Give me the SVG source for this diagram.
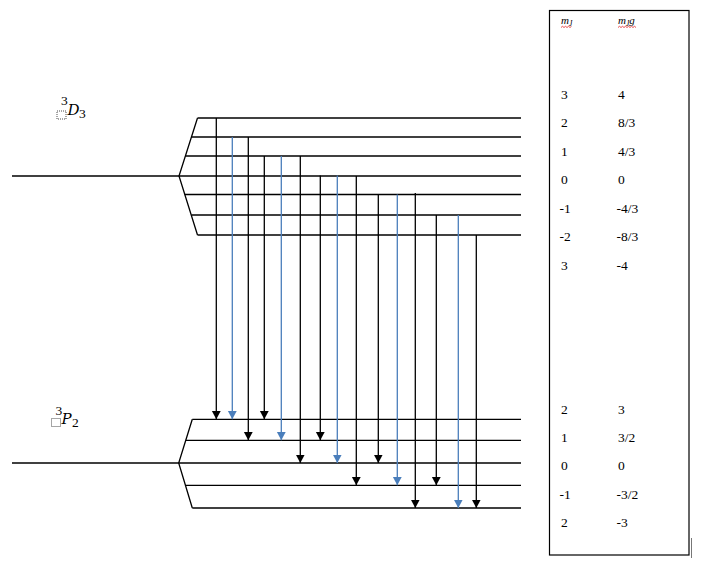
<svg xmlns="http://www.w3.org/2000/svg" width="709" height="566" viewBox="0 0 709 566">
<style>
.lv{stroke:#000;stroke-width:1.3;fill:none}
.tb{stroke:#000;stroke-width:1.3;fill:none}
.bl{stroke:#4a7ebb;stroke-width:1.3;fill:none}
.num{font-family:"Liberation Serif","Times New Roman",serif;font-size:13.5px;fill:#000}
.lab{font-family:"DejaVu Serif","Liberation Serif",serif;font-style:italic;font-size:15px;fill:#000}
.hd{font-family:"Liberation Serif","Times New Roman",serif;font-style:italic;font-size:11px;fill:#000}
.wavy{stroke:#e02020;stroke-width:0.8;fill:none}
.dot{stroke:#000;stroke-width:0.7;fill:none;stroke-dasharray:1,1}
</style>
<defs>
<marker id="ak" markerUnits="userSpaceOnUse" markerWidth="10" markerHeight="10" refX="8.5" refY="4.5" orient="auto">
<path d="M0,0 L8.5,4.5 L0,9 Z" fill="#000"/>
</marker>
<marker id="ab" markerUnits="userSpaceOnUse" markerWidth="10" markerHeight="10" refX="8.5" refY="4.5" orient="auto">
<path d="M0,0 L8.5,4.5 L0,9 Z" fill="#4a7ebb"/>
</marker>
</defs>
<rect width="709" height="566" fill="#fff"/>

<g id="D3-levels">
<line class="lv" x1="12" y1="176" x2="521" y2="176"/>
<polyline class="lv" points="197.5,118 179,176 197.5,235"/>
<line class="lv" x1="197.5" y1="118" x2="521" y2="118"/>
<line class="lv" x1="191.5" y1="137" x2="521" y2="137"/>
<line class="lv" x1="185.5" y1="156" x2="521" y2="156"/>
<line class="lv" x1="184.8" y1="194.5" x2="521" y2="194.5"/>
<line class="lv" x1="191.4" y1="215" x2="521" y2="215"/>
<line class="lv" x1="197.5" y1="235" x2="521" y2="235"/>
</g>

<g id="P2-levels">
<line class="lv" x1="12" y1="463" x2="521" y2="463"/>
<polyline class="lv" points="192.3,419.3 178.7,463 192.3,508"/>
<line class="lv" x1="192.3" y1="419.3" x2="521" y2="419.3"/>
<line class="lv" x1="185.8" y1="440.3" x2="521" y2="440.3"/>
<line class="lv" x1="185.6" y1="485.3" x2="521" y2="485.3"/>
<line class="lv" x1="192.3" y1="508" x2="521" y2="508"/>
</g>

<g id="D3-label">
<rect class="dot" x="57" y="111" width="9" height="8"/>
<text class="num" x="61" y="105" font-size="11">3</text>
<text class="lab" x="67.5" y="114.5">D</text>
<text class="num" x="79" y="118" font-size="11">3</text>
</g>

<g id="P2-label">
<rect class="dot" x="51.5" y="418.5" width="9" height="8"/>
<text class="num" x="55.5" y="414.5" font-size="11">3</text>
<text class="lab" x="61.5" y="424">P</text>
<text class="num" x="72" y="426.5" font-size="11">2</text>
</g>

<g id="connectors">
<line class="tb" x1="216.3" y1="118" x2="216.3" y2="419.3" marker-end="url(#ak)"/>
<line class="bl" x1="232.3" y1="137" x2="232.3" y2="419.3" marker-end="url(#ab)"/>
<line class="tb" x1="248.3" y1="137" x2="248.3" y2="440.3" marker-end="url(#ak)"/>
<line class="tb" x1="264.3" y1="156" x2="264.3" y2="419.3" marker-end="url(#ak)"/>
<line class="bl" x1="281.3" y1="156" x2="281.3" y2="440.3" marker-end="url(#ab)"/>
<line class="tb" x1="300.3" y1="156" x2="300.3" y2="463" marker-end="url(#ak)"/>
<line class="tb" x1="320.3" y1="175.5" x2="320.3" y2="440.3" marker-end="url(#ak)"/>
<line class="bl" x1="337.3" y1="175.5" x2="337.3" y2="463" marker-end="url(#ab)"/>
<line class="tb" x1="356.3" y1="176" x2="356.3" y2="485.3" marker-end="url(#ak)"/>
<line class="tb" x1="378.3" y1="194.5" x2="378.3" y2="463" marker-end="url(#ak)"/>
<line class="bl" x1="397.3" y1="194.5" x2="397.3" y2="485.3" marker-end="url(#ab)"/>
<line class="tb" x1="415.3" y1="193" x2="415.3" y2="508" marker-end="url(#ak)"/>
<line class="tb" x1="436.3" y1="215" x2="436.3" y2="485.3" marker-end="url(#ak)"/>
<line class="bl" x1="458.3" y1="215" x2="458.3" y2="508" marker-end="url(#ab)"/>
<line class="tb" x1="476.3" y1="235" x2="476.3" y2="508" marker-end="url(#ak)"/>
</g>

<g id="table">
<rect x="549.5" y="10.5" width="139.5" height="544.5" fill="none" stroke="#000" stroke-width="1.2"/>
<line x1="691.5" y1="538" x2="691.5" y2="558" stroke="#777" stroke-width="1"/>
<text class="hd" x="561" y="24">m<tspan font-size="7.5" dy="2">J</tspan></text>
<text class="hd" x="618" y="24">m<tspan font-size="7.5" dy="2">J</tspan><tspan dy="-2">g</tspan></text>
<path class="wavy" d="M561,27.5 l1.5,-1.2 l1.5,1.2 l1.5,-1.2 l1.5,1.2 l1.5,-1.2 l1.5,1.2 l1.5,-1.2"/>
<path class="wavy" d="M618,27.5 l1.5,-1.2 l1.5,1.2 l1.5,-1.2 l1.5,1.2 l1.5,-1.2 l1.5,1.2 l1.5,-1.2 l1.5,1.2 l1.5,-1.2 l1.5,1.2 l1.5,-1.2 l1.5,1.2"/>
<g class="num">
<text x="561" y="98.5">3</text><text x="618" y="98.5">4</text>
<text x="561" y="127">2</text><text x="618" y="127">8/3</text>
<text x="561" y="155.5">1</text><text x="618" y="155.5">4/3</text>
<text x="561" y="184">0</text><text x="618" y="184">0</text>
<text x="559.5" y="212.5">-1</text><text x="616.5" y="212.5">-4/3</text>
<text x="559.5" y="241">-2</text><text x="616.5" y="241">-8/3</text>
<text x="561" y="269.5">3</text><text x="616.5" y="269.5">-4</text>
<text x="561" y="413.5">2</text><text x="618" y="413.5">3</text>
<text x="561" y="442">1</text><text x="618" y="442">3/2</text>
<text x="561" y="470">0</text><text x="618" y="470">0</text>
<text x="559.5" y="498.5">-1</text><text x="616.5" y="498.5">-3/2</text>
<text x="561" y="526.5">2</text><text x="616.5" y="526.5">-3</text>
</g>
</g>
</svg>
